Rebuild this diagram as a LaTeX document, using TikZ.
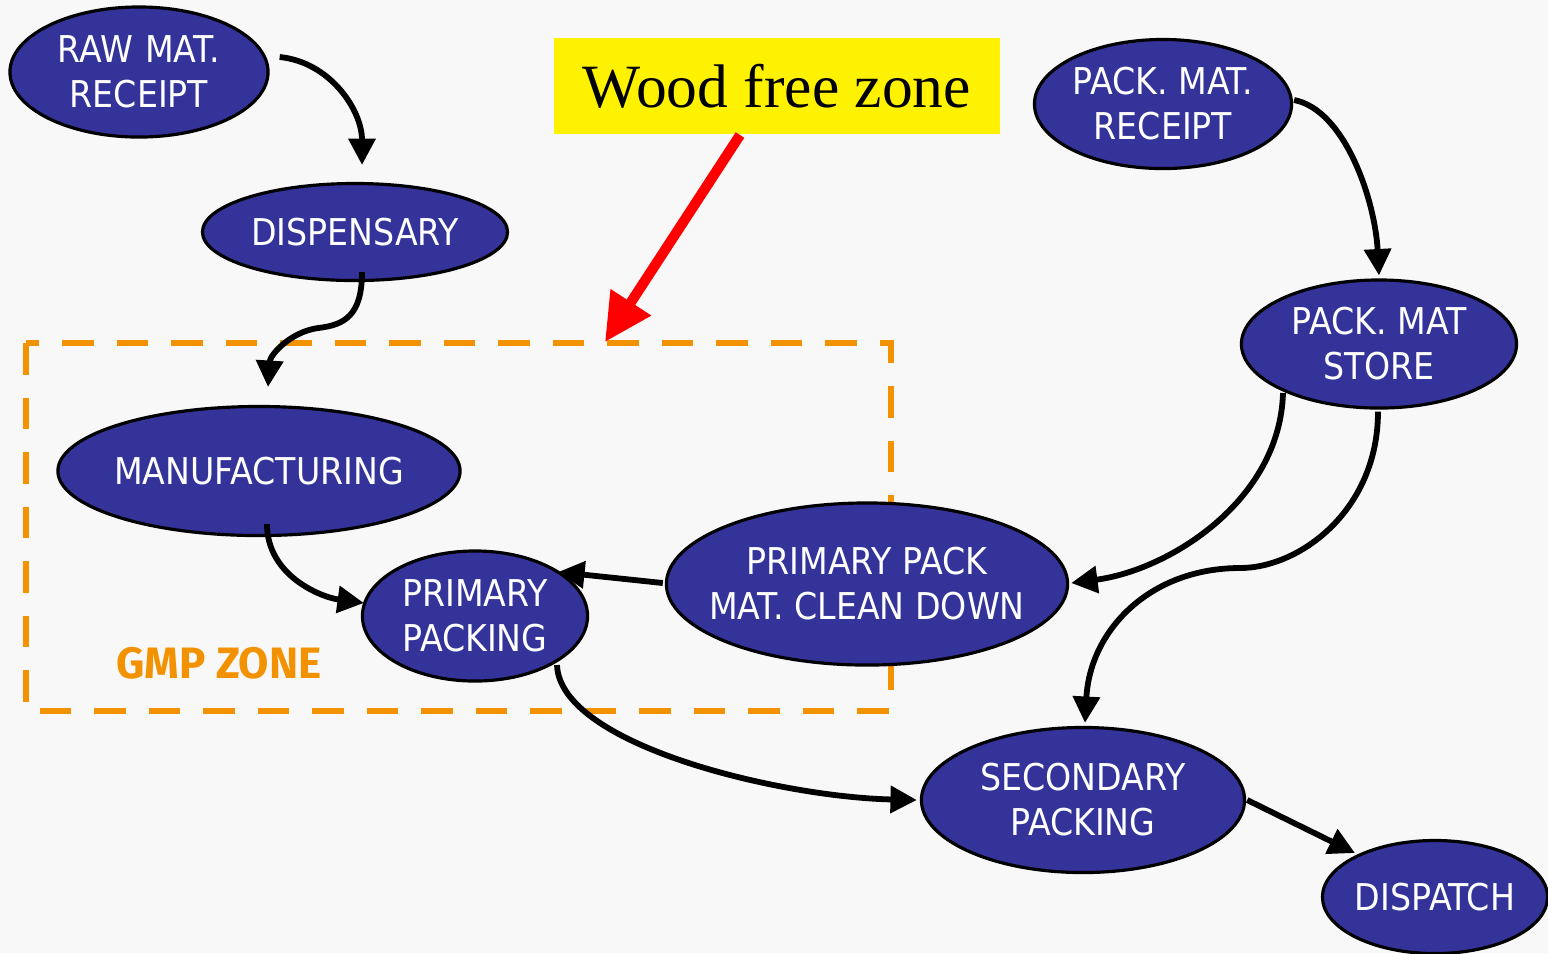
\documentclass[tikz,border=0pt]{standalone}
\usepackage{fontspec}
\setmainfont{DejaVu Sans Condensed}
\newfontfamily\woodfont{Liberation Serif}
\newfontfamily\gmpfont{Fira Sans}
\usetikzlibrary{shapes.geometric,arrows.meta}
\definecolor{bg}{HTML}{F8F8F8}
\definecolor{nodeblue}{HTML}{333399}
\definecolor{zoneorange}{HTML}{F39200}
\tikzset{
  proc/.style={ellipse,draw=black,line width=0.9pt,fill=nodeblue,inner sep=0pt},
  ptext/.style={text=white,align=center,font=\fontsize{10.5}{12.8}\selectfont,inner sep=0pt},
  flow/.style={line width=1.65pt,-{Triangle[length=7.5pt,width=7.5pt]}},
}
\begin{document}
\begin{tikzpicture}[x=0.01cm,y=-0.01cm]
\fill[bg] (0,0) rectangle (1548,953);
\useasboundingbox (0,0) rectangle (1548,953);
% GMP zone
\draw[zoneorange,line width=1.7pt,dash pattern=on 9pt off 6.5pt] (26,343) rectangle (891,711);
\node[text=zoneorange,font=\gmpfont\bfseries\fontsize{12.5}{14}\selectfont] (gmp) at (219,663) {GMP ZONE};
% Nodes
\node[proc,minimum width=2.58cm,minimum height=1.30cm] (raw) at (139,72) {};
\node[ptext] (rawt) at (raw.center) {RAW\,\,MAT.\\RECEIPT};
\node[proc,minimum width=3.05cm,minimum height=0.97cm] (disp) at (355,232) {};
\node[ptext] (dispt) at (disp.center) {DISPENSARY};
\node[proc,minimum width=4.02cm,minimum height=1.29cm] (manu) at (259,471) {};
\node[ptext] (manut) at (manu.center) {MANUFACTURING};
\node[proc,minimum width=2.25cm,minimum height=1.30cm] (ppack) at (475,616) {};
\node[ptext] (ppackt) at (ppack.center) {PRIMARY\\PACKING};
\node[proc,minimum width=4.01cm,minimum height=1.62cm] (clean) at (867,584) {};
\node[ptext] (cleant) at (clean.center) {PRIMARY PACK\\MAT. CLEAN DOWN};
\node[proc,minimum width=2.57cm,minimum height=1.29cm] (pmr) at (1163,104) {};
\node[ptext] (pmrt) at (pmr.center) {PACK. MAT.\\RECEIPT};
\node[proc,minimum width=2.75cm,minimum height=1.28cm] (pms) at (1379,344) {};
\node[ptext] (pmst) at (pms.center) {PACK. MAT\\STORE};
\node[proc,minimum width=3.23cm,minimum height=1.45cm] (sec) at (1083,800) {};
\node[ptext] (sect) at (sec.center) {SECONDARY\\PACKING};
\node[proc,minimum width=2.25cm,minimum height=1.13cm] (disp2) at (1435,897) {};
\node[ptext] (disp2t) at (disp2.center) {DISPATCH};
% Wood free zone
\node[fill=yellow,minimum width=4.45cm,minimum height=0.95cm,inner sep=0pt,font=\woodfont\fontsize{17.5}{20}\selectfont] (wood) at (777,86) {Wood free zone};
\coordinate (redtip) at (605,342);
\coordinate (redstart) at (740,135);
\draw[red,line width=2.9pt,-{Triangle[length=13.5pt,width=13pt]}] (redstart) -- (redtip);
% Connectors
\draw[flow] ([shift={(10,-15)}]raw.east) .. controls (330,62) and (362,110) .. ([shift={(7,-17)}]disp.north);
\draw[flow] ([shift={(7,-10)}]disp.south) .. controls (362,315) and (345,325) .. (318,328) .. controls (290,332) and (270,355) .. ([shift={(9,-18)}]manu.north);
\draw[flow] ([shift={(8,-13)}]manu.south) .. controls (267,575) and (320,597) .. ([shift={(3,-13)}]ppack.west);
\draw[flow] ([shift={(-2,-1)}]clean.west) -- ([shift={(-31,-44)}]ppack.east);
\draw[flow] ([shift={(1,-4)}]pmr.east) .. controls (1345,110) and (1375,200) .. ([shift={(0,-3)}]pms.north);
\draw[flow] ([shift={(-96,49)}]pms.center) .. controls (1280,500) and (1170,570) .. ([shift={(2,-1)}]clean.east);
\draw[flow] ([shift={(-1,2)}]pms.south) .. controls (1378,510) and (1300,568) .. (1240,568) .. controls (1150,568) and (1090,630) .. ([shift={(2,-3)}]sec.north);
\draw[flow] ([shift={(82,49)}]ppack.center) .. controls (560,745) and (780,797) .. ([shift={(-3,0)}]sec.west);
\draw[flow] ([shift={(1,0)}]sec.east) -- ([shift={(-80,-44)}]disp2.center);
\end{tikzpicture}
\end{document}
